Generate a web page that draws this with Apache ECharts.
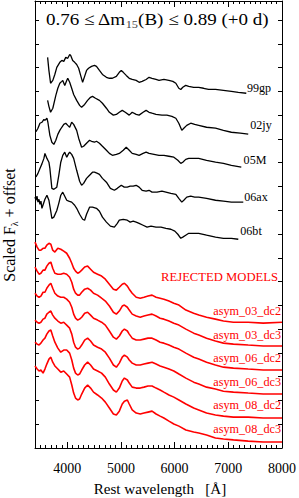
<!DOCTYPE html>
<html><head><meta charset="utf-8">
<script src="https://cdn.jsdelivr.net/npm/echarts@6/dist/echarts.min.js"></script>
<style>html,body{margin:0;padding:0;background:#fff}#c{width:299px;height:498px}</style>
</head><body><div id="c"></div>
<script>
// ---------------- DATA ----------------
const xTickLabels = [4000, 5000, 6000, 7000, 8000];
const spectrumNames = ['99gp', '02jy', '05M', '06ax', '06bt'];
const modelNames = ['asym_03_dc2', 'asym_03_dc3', 'asym_06_dc2', 'asym_06_dc3', 'asym_08_dc2', 'asym_08_dc3'];

// observed spectra: [rest wavelength (Å), scaled flux + offset]
const sn99gp = [[3635,16.43],[3659,15.88],[3690,15.34],[3732,15.46],[3769,15.71],[3806,16.01],[3862,16.22],[3899,16.30],[3936,16.26],[3973,16.43],[4010,16.39],[4046,16.55],[4065,16.51],[4102,16.30],[4139,16.22],[4176,16.13],[4213,15.97],[4250,15.67],[4287,15.38],[4324,15.63],[4360,15.88],[4397,15.97],[4453,16.05],[4508,16.09],[4545,16.05],[4600,15.88],[4656,15.71],[4730,15.59],[4785,15.55],[4841,15.55],[4915,15.63],[4970,15.80],[5007,15.88],[5044,15.80],[5099,15.67],[5155,15.55],[5210,15.50],[5284,15.46],[5339,15.38],[5395,15.42],[5469,15.50],[5524,15.59],[5579,15.55],[5653,15.50],[5709,15.46],[5801,15.50],[5893,15.46],[5967,15.42],[6023,15.34],[6078,15.13],[6115,15.08],[6152,15.17],[6207,15.25],[6263,15.21],[6355,15.17],[6448,15.17],[6540,15.13],[6632,15.08],[6762,15.08],[6909,15.04],[7057,15.00],[7186,14.96],[7335,14.92]];
const sn02jy = [[3635,14.62],[3659,14.37],[3690,14.12],[3732,14.29],[3788,14.83],[3825,15.13],[3862,15.34],[3899,15.42],[3917,15.46],[3954,15.25],[3991,15.46],[4010,15.55],[4046,15.38],[4083,15.13],[4120,14.87],[4176,14.62],[4231,14.41],[4268,14.33],[4324,14.45],[4379,14.62],[4434,14.75],[4471,14.79],[4527,14.71],[4600,14.62],[4656,14.50],[4730,14.29],[4785,14.12],[4859,14.00],[4915,14.03],[4970,14.12],[5025,14.20],[5081,14.12],[5155,14.00],[5210,14.12],[5284,14.03],[5339,14.00],[5413,14.12],[5469,14.20],[5524,14.12],[5579,14.08],[5653,14.03],[5764,14.00],[5856,14.00],[5949,13.95],[6023,13.87],[6078,13.66],[6134,13.36],[6171,13.45],[6226,13.57],[6300,13.66],[6374,13.61],[6448,13.57],[6595,13.49],[6762,13.45],[6909,13.36],[7057,13.28],[7223,13.24],[7371,13.20]];
const sn05M = [[3418,13.30],[3455,13.45],[3492,13.66],[3529,13.70],[3566,13.82],[3585,13.78],[3622,13.87],[3640,13.70],[3677,13.15],[3714,12.86],[3751,12.77],[3788,12.94],[3825,13.19],[3862,13.36],[3899,13.49],[3936,13.61],[3973,13.66],[4010,13.57],[4046,13.49],[4083,13.70],[4120,13.61],[4176,13.36],[4213,13.03],[4268,12.65],[4305,12.69],[4360,12.82],[4416,12.94],[4453,12.90],[4508,12.86],[4545,12.90],[4600,12.82],[4656,12.69],[4730,12.52],[4785,12.39],[4841,12.31],[4915,12.35],[4970,12.39],[5044,12.52],[5099,12.65],[5155,12.52],[5210,12.39],[5284,12.35],[5339,12.31],[5413,12.39],[5469,12.44],[5524,12.39],[5616,12.35],[5709,12.31],[5801,12.31],[5893,12.27],[5986,12.23],[6060,12.10],[6115,11.97],[6152,12.02],[6207,12.14],[6263,12.18],[6355,12.18],[6448,12.18],[6595,12.10],[6762,12.02],[6909,11.97],[7057,11.89],[7242,11.81]];
const sn06ax = [[3418,11.40],[3455,11.55],[3492,11.76],[3529,11.95],[3566,12.18],[3585,12.39],[3622,12.18],[3659,12.02],[3677,11.76],[3714,10.92],[3751,10.88],[3806,10.97],[3843,11.47],[3880,12.02],[3917,12.31],[3954,12.44],[3991,12.23],[4028,12.39],[4046,12.44],[4083,12.35],[4120,12.18],[4176,11.68],[4231,11.22],[4268,11.05],[4305,11.13],[4360,11.34],[4416,11.47],[4471,11.60],[4508,11.60],[4564,11.55],[4600,11.51],[4656,11.34],[4730,11.18],[4804,10.92],[4878,10.84],[4933,10.92],[5007,11.05],[5062,10.97],[5118,10.97],[5173,11.01],[5229,11.01],[5284,11.05],[5339,10.97],[5395,10.84],[5469,10.80],[5524,10.84],[5579,10.76],[5672,10.76],[5764,10.80],[5838,10.76],[5930,10.71],[6023,10.67],[6078,10.50],[6134,10.34],[6171,10.42],[6226,10.55],[6300,10.59],[6374,10.55],[6448,10.55],[6595,10.50],[6762,10.42],[6909,10.38],[7057,10.34],[7279,10.34]];
const sn06bt = [[3400,10.55],[3418,10.42],[3437,10.59],[3455,10.34],[3474,10.46],[3492,10.25],[3511,10.38],[3529,10.08],[3548,10.21],[3585,10.46],[3622,10.63],[3659,10.42],[3696,9.92],[3714,9.66],[3751,9.71],[3806,9.99],[3843,10.29],[3880,10.63],[3917,10.76],[3954,10.59],[3991,10.42],[4028,10.38],[4083,10.34],[4139,10.21],[4176,10.08],[4231,9.83],[4287,9.62],[4324,9.58],[4360,9.83],[4416,10.13],[4471,10.13],[4545,10.08],[4600,9.96],[4656,9.71],[4730,9.50],[4804,9.33],[4878,9.29],[4933,9.45],[4970,9.58],[5044,9.62],[5118,9.58],[5173,9.50],[5229,9.54],[5284,9.50],[5339,9.45],[5413,9.37],[5487,9.29],[5561,9.33],[5653,9.29],[5746,9.29],[5838,9.24],[5930,9.20],[6004,9.12],[6060,8.99],[6115,8.82],[6152,8.87],[6207,8.95],[6263,9.03],[6355,9.03],[6448,9.03],[6595,8.95],[6762,8.87],[6909,8.82],[7057,8.82],[7186,8.78]];

// rejected models share one wavelength grid (Å)
const modelWave = [3400,3440,3475,3510,3550,3585,3620,3660,3695,3730,3770,3825,3880,3935,3990,4045,4085,4120,4155,4195,4230,4270,4325,4380,4435,4490,4565,4640,4710,4785,4860,4915,4970,5025,5065,5120,5155,5210,5285,5360,5430,5505,5580,5655,5730,5800,5895,5985,6080,6210,6355,6450,6595,6760,6910,7095,7370,7650,8000];
const asym03dc2 = [8.66,8.45,8.32,8.32,8.40,8.40,8.53,8.61,8.57,8.32,8.24,8.40,8.36,8.28,8.19,7.98,7.77,7.56,7.44,7.35,7.39,7.48,7.61,7.65,7.52,7.39,7.31,7.23,7.10,6.89,6.68,6.64,6.76,6.89,6.93,6.81,6.68,6.51,6.34,6.30,6.34,6.39,6.43,6.34,6.30,6.26,6.18,6.09,6.01,5.80,5.67,5.59,5.50,5.42,5.34,5.29,5.29,5.25,5.29];
const asym03dc3 = [7.61,7.44,7.31,7.35,7.48,7.48,7.65,7.77,7.82,7.56,7.35,7.31,7.31,7.35,7.31,7.18,6.97,6.68,6.51,6.43,6.43,6.55,6.68,6.72,6.64,6.51,6.43,6.30,6.18,5.97,5.71,5.63,5.76,5.97,6.01,5.92,5.80,5.63,5.55,5.50,5.55,5.59,5.63,5.55,5.46,5.42,5.34,5.25,5.17,5.00,4.83,4.75,4.62,4.50,4.41,4.37,4.33,4.29,4.29];
const asym06dc2 = [6.51,6.39,6.34,6.39,6.55,6.55,6.72,6.85,6.93,6.72,6.51,6.39,6.34,6.34,6.26,6.13,5.92,5.63,5.46,5.38,5.42,5.50,5.67,5.71,5.59,5.46,5.38,5.29,5.17,4.92,4.66,4.58,4.71,4.92,5.00,4.92,4.79,4.62,4.54,4.54,4.58,4.62,4.62,4.54,4.45,4.41,4.33,4.24,4.16,3.99,3.82,3.74,3.61,3.49,3.40,3.36,3.32,3.28,3.28];
const asym06dc3 = [5.38,5.29,5.25,5.29,5.42,5.46,5.63,5.71,5.76,5.59,5.46,5.34,5.25,5.29,5.17,5.04,4.79,4.45,4.24,4.16,4.20,4.33,4.54,4.62,4.50,4.33,4.24,4.16,4.03,3.78,3.49,3.40,3.57,3.82,3.91,3.82,3.70,3.57,3.49,3.49,3.53,3.57,3.61,3.53,3.45,3.40,3.32,3.24,3.11,2.94,2.77,2.69,2.56,2.48,2.39,2.35,2.31,2.27,2.27];
const asym08dc2 = [4.45,4.37,4.33,4.41,4.54,4.62,4.79,4.92,4.96,4.71,4.45,4.20,4.03,4.12,4.12,3.99,3.70,3.36,3.15,3.07,3.11,3.28,3.49,3.61,3.49,3.32,3.24,3.15,2.98,2.69,2.44,2.35,2.52,2.82,2.94,2.86,2.73,2.56,2.52,2.52,2.56,2.61,2.61,2.52,2.44,2.35,2.23,2.14,2.02,1.85,1.68,1.60,1.47,1.39,1.34,1.30,1.30,1.26,1.26];
const asym08dc3 = [3.45,3.32,3.24,3.28,3.15,3.32,3.53,3.74,3.82,3.61,3.45,3.32,3.19,3.24,3.11,2.98,2.65,2.31,2.10,2.02,2.06,2.27,2.52,2.65,2.52,2.35,2.23,2.10,1.93,1.68,1.43,1.39,1.55,1.85,1.97,2.02,1.85,1.60,1.47,1.43,1.47,1.51,1.55,1.43,1.34,1.26,1.13,1.01,0.92,0.76,0.67,0.63,0.55,0.42,0.38,0.34,0.29,0.25,0.25];

// ---------------- CHART ----------------
const serif = '"Liberation Serif", "Times New Roman", serif';
const chart = echarts.init(document.getElementById('c'), null, {renderer: 'svg'});
const black = '#000000', red = '#ff0000';
const observed = [sn99gp, sn02jy, sn05M, sn06ax, sn06bt];
const models = [asym03dc2, asym03dc3, asym06dc2, asym06dc3, asym08dc2, asym08dc3];

const series = [];
observed.forEach((d, i) => series.push({
  name: spectrumNames[i], type: 'line', data: d, showSymbol: false, symbol: 'none',
  lineStyle: {color: black, width: 1.3}, silent: true, animation: false
}));
models.forEach((m, i) => series.push({
  name: modelNames[i], type: 'line', data: modelWave.map((w, k) => [w, m[k]]),
  showSymbol: false, symbol: 'none', lineStyle: {color: red, width: 1.6}, silent: true, animation: false
}));

const lineStyle = {color: black, width: 1};
function xAx(pos, major) {
  const a = {type: 'value', position: pos, min: 3400, max: 8000, splitLine: {show: false},
    axisLine: {show: !major, onZero: false, lineStyle}, axisLabel: {show: false}};
  if (major) {
    a.axisTick = {show: true, inside: true, length: 6, customValues: xTickLabels, lineStyle};
    if (pos === 'bottom') a.axisLabel = {show: true, customValues: xTickLabels, margin: 13,
      formatter: v => String(v), fontSize: 14, fontFamily: serif, color: black};
  } else {
    a.interval = 100;
    a.axisTick = {show: true, inside: true, length: 3, lineStyle};
  }
  return a;
}
function yAx(pos) {
  return {type: 'value', position: pos, min: 0, max: 18.8, interval: 1, splitLine: {show: false},
    axisLine: {show: true, onZero: false, lineStyle}, axisTick: {show: true, inside: true, length: 4, lineStyle},
    axisLabel: {show: false}};
}

function txt(x, y, text, opt) {
  return Object.assign({type: 'text', x: x, y: y, silent: true,
    style: Object.assign({text: text, font: (opt.size || 11) + 'px ' + serif, fontSize: opt.size || 11,
      fontFamily: serif, fill: opt.color || black,
      align: opt.align || 'center', verticalAlign: 'middle',
      textAlign: opt.align || 'center', textVerticalAlign: 'middle'}, opt.style || {})},
    opt.el || {});
}

const labelPos = [[259, 88], [261, 125], [255, 160], [256, 197], [251, 231]];
const modelLabelY = [311, 335, 358, 382, 405, 429];
const graphics = [];
graphics.push(txt(157, 19, '{a|0.76 ≤ Δm}{s|15}{a|(B) ≤ 0.89 (+0 d)}', {size: 17,
  style: {rich: {a: {fontSize: 17, fontFamily: serif, lineHeight: 20, fill: black, color: black},
    s: {fontSize: 11, fontFamily: serif, lineHeight: 11, padding: [11, 0, 0, 0], fill: '#444', color: '#444'}}},
  el: {scaleX: 1.12}}));
spectrumNames.forEach((n, i) => graphics.push(txt(labelPos[i][0], labelPos[i][1], n, {size: 11.5, el: {scaleX: 1.05}})));
graphics.push(txt(278, 277, 'REJECTED MODELS', {size: 11.5, color: red, align: 'right', el: {scaleX: 1.1}}));
modelNames.forEach((n, i) => graphics.push(txt(281, modelLabelY[i], n, {size: 11.5, color: red, align: 'right', el: {scaleX: 1.06}})));
graphics.push(txt(160, 489, 'Rest wavelength   [Å]', {size: 14, el: {scaleX: 1.08}}));
graphics.push(txt(9, 225, '{a|Scaled F}{s|λ}{a| + offset}', {size: 16,
  style: {rich: {a: {fontSize: 16, fontFamily: serif, lineHeight: 19, fill: black, color: black},
    s: {fontSize: 10, fontFamily: serif, lineHeight: 10, padding: [10, 0, 0, 0], fill: black, color: black}}},
  el: {rotation: Math.PI / 2}}));

chart.setOption({
  animation: false,
  backgroundColor: '#ffffff',
  grid: {left: 35, right: 15, top: 1, bottom: 50, containLabel: false},
  xAxis: [xAx('bottom', false), xAx('bottom', true), xAx('top', false), xAx('top', true)],
  yAxis: [yAx('left'), yAx('right')],
  series: series,
  graphic: graphics
});
</script>
</body></html>
